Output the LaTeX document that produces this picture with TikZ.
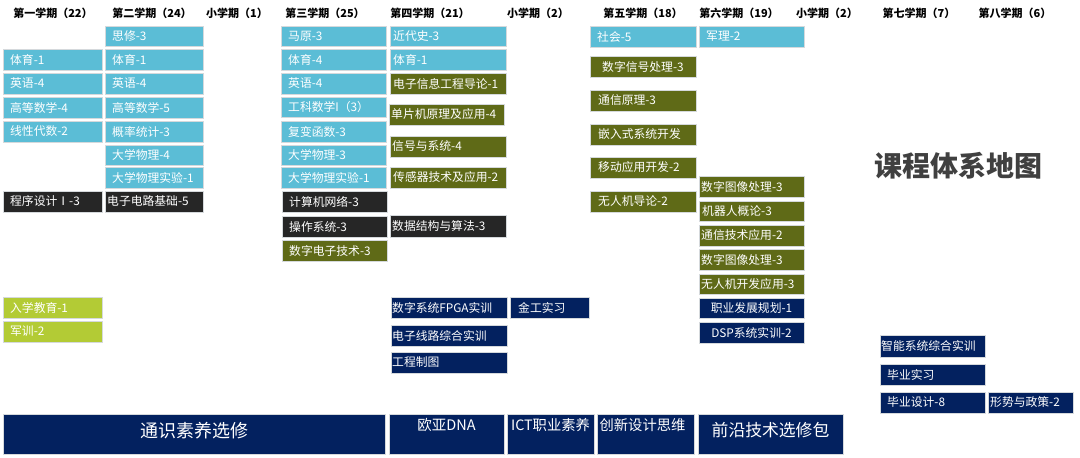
\documentclass[tikz,border=0pt]{standalone}
\usepackage{fontspec}
\setmainfont{Noto Sans CJK SC}
\definecolor{cblue}{HTML}{5BBDD6}
\definecolor{colive}{HTML}{5F6A17}
\definecolor{cdark}{HTML}{262626}
\definecolor{cnavy}{HTML}{03215F}
\definecolor{clime}{HTML}{B3CB35}
\definecolor{cedge}{HTML}{D5D9DC}
\definecolor{ctitle}{HTML}{404040}
\tikzset{
  box/.style={draw=cedge, line width=0.8pt, inner sep=0pt, outer sep=0pt, anchor=north west},
  bl/.style={box, fill=cblue},
  ol/.style={box, fill=colive},
  dk/.style={box, fill=cdark},
  nv/.style={box, fill=cnavy},
  lm/.style={box, fill=clime},
  lab/.style={anchor=west, inner sep=0pt, text=white, font=\fontsize{11.8}{13}\selectfont},
  labc/.style={anchor=center, inner sep=0pt, text=white, font=\fontsize{11.8}{13}\selectfont},
  head/.style={inner sep=0pt, text=black, font=\bfseries\fontsize{11}{13}\selectfont},
}
% style, name, x, y, w, h, inset, text
\newcommand\cb[8]{\node[#1, minimum width=#5pt, minimum height=#6pt, label={[lab, xshift=#7pt]west:#8}] (#2) at (#3,#4) {};}
% style, name, x, y, w, h, label options, text
\newcommand\cc[8]{\node[#1, minimum width=#5pt, minimum height=#6pt, label={[labc, #7]center:#8}] (#2) at (#3,#4) {};}
\begin{document}
\begin{tikzpicture}[x=1pt, y=-1pt]
\path[use as bounding box, fill=white] (0,0) rectangle (1080,458);
% headers
\node[head] (h1) at (53,13) {第一学期（22）};
\node[head] (h2) at (152,13) {第二学期（24）};
\node[head] (h3) at (237,13) {小学期（1）};
\node[head] (h4) at (325,13) {第三学期（25）};
\node[head] (h5) at (430,13) {第四学期（21）};
\node[head] (h6) at (538,13) {小学期（2）};
\node[head] (h7) at (643,13) {第五学期（18）};
\node[head] (h8) at (739,13) {第六学期（19）};
\node[head] (h9) at (827,13) {小学期（2）};
\node[head] (h10) at (919,13) {第七学期（7）};
\node[head] (h11) at (1015,13) {第八学期（6）};
% column 1
\cb{bl}{a1}{3}{49}{99}{21}{7}{体育-1}
\cb{bl}{a2}{3}{73}{99}{21}{7}{英语-4}
\cb{bl}{a3}{3}{97}{99}{21}{7}{高等数学-4}
\cb{bl}{a4}{3}{121}{99}{21}{7}{线性代数-2}
\cb{dk}{a5}{3}{191}{99}{21}{7}{程序设计Ⅰ-3}
\cb{lm}{a6}{3}{297}{99}{21}{7}{入学教育-1}
\cb{lm}{a7}{3}{321}{99}{21}{7}{军训-2}
% column 2
\cb{bl}{b1}{105}{26}{98}{20}{7}{思修-3}
\cb{bl}{b2}{105}{49}{98}{21}{7}{体育-1}
\cb{bl}{b3}{105}{73}{98}{21}{7}{英语-4}
\cb{bl}{b4}{105}{97}{98}{21}{7}{高等数学-5}
\cb{bl}{b5}{105}{121}{98}{21}{7}{概率统计-3}
\cb{bl}{b6}{105}{145}{98}{20}{7}{大学物理-4}
\cb{bl}{b7}{105}{167}{98}{21}{7}{大学物理实验-1}
\cb{dk}{b8}{105}{191}{98}{21}{2}{电子电路基础-5}
% column 3
\cb{bl}{c1}{281}{26}{105}{20}{7}{马原-3}
\cb{bl}{c2}{281}{49}{105}{21}{7}{体育-4}
\cb{bl}{c3}{281}{73}{105}{21}{7}{英语-4}
\cb{bl}{c4}{281}{97}{105}{20}{7}{工科数学I（3）}
\cb{bl}{c5}{281}{121}{105}{21}{7}{复变函数-3}
\cb{bl}{c6}{281}{145}{105}{20}{7}{大学物理-3}
\cb{bl}{c7}{281}{167}{105}{21}{7}{大学物理实验-1}
\cb{dk}{c8}{282}{191}{105}{21}{7}{计算机网络-3}
\cb{dk}{c9}{282}{216}{105}{21}{7}{操作系统-3}
\cb{ol}{c10}{282}{240}{105}{21}{7}{数字电子技术-3}
% column 4
\cb{bl}{d1}{390}{26}{116}{20}{3}{近代史-3}
\cb{bl}{d2}{390}{49}{116}{21}{3}{体育-1}
\cb{ol}{d3}{390}{73}{116}{21}{3}{电子信息工程导论-1}
\cb{ol}{d4}{389}{104}{115}{21}{2}{单片机原理及应用-4}
\cb{ol}{d5}{390}{136}{116}{21}{2}{信号与系统-4}
\cb{ol}{d6}{390}{167}{116}{21}{3}{传感器技术及应用-2}
\cb{dk}{d7}{390}{215}{116}{22}{2}{数据结构与算法-3}
\cb{nv}{d8}{391}{297}{116}{21}{1}{数字系统FPGA实训}
\cb{nv}{d9}{510}{297}{79}{21}{8}{金工实习}
\cb{nv}{d10}{391}{325}{116}{21}{1}{电子线路综合实训}
\cb{nv}{d11}{391}{352}{116}{21}{1}{工程制图}
% column 5
\cb{bl}{e1}{590}{26}{106}{21}{7}{社会-5}
\cb{ol}{e2}{590}{56}{106}{21}{12}{数字信号处理-3}
\cb{ol}{e3}{590}{90}{106}{21}{8}{通信原理-3}
\cb{ol}{e4}{590}{124}{106}{21}{8}{嵌入式系统开发}
\cb{ol}{e5}{590}{157}{106}{21}{8}{移动应用开发-2}
\cb{ol}{e6}{590}{191}{106}{21}{8}{无人机导论-2}
% column 6
\cb{bl}{f1}{699}{26}{105}{21}{7}{军理-2}
\cb{ol}{f2}{699}{176}{105}{21}{2}{数字图像处理-3}
\cb{ol}{f3}{699}{201}{105}{20}{3}{机器人概论-3}
\cb{ol}{f4}{699}{225}{105}{21}{2}{通信技术应用-2}
\cb{ol}{f5}{699}{249}{105}{21}{2}{数字图像处理-3}
\cb{ol}{f6}{699}{274}{105}{20}{2}{无人机开发应用-3}
\cc{nv}{f7}{699}{298}{105}{20}{}{职业发展规划-1}
\cc{nv}{f8}{699}{322}{105}{21}{}{DSP系统实训-2}
% column 7/8
\cb{nv}{g1}{880}{335}{105}{22}{1}{智能系统综合实训}
\cb{nv}{g2}{880}{364}{105}{21}{7}{毕业实习}
\cb{nv}{g3}{880}{392}{105}{21}{7}{毕业设计-8}
\cb{nv}{g4}{988}{392}{85}{21}{2}{形势与政策-2}
% title
\node[inner sep=0pt, text=ctitle, font=\bfseries\fontsize{28}{32}\selectfont] (title) at (958,166) {课程体系地图};
% bottom bar
\cc{nv}{k1}{3}{414}{382}{40}{yshift=3.5pt, font=\fontsize{18}{20}\selectfont}{通识素养选修}
\cc{nv}{k2}{389}{414}{115}{40}{yshift=8.5pt, font=\fontsize{14.5}{16}\selectfont}{欧亚DNA}
\cc{nv}{k3}{507}{414}{87}{40}{yshift=8.5pt, font=\fontsize{14.3}{16}\selectfont}{ICT职业素养}
\cc{nv}{k4}{597}{414}{97}{40}{yshift=8.5pt, xshift=-3pt, font=\fontsize{14.3}{16}\selectfont}{创新设计思维}
\cc{nv}{k5}{698}{414}{145}{40}{yshift=3.5pt, font=\fontsize{16.8}{19}\selectfont}{前沿技术选修包}
\end{tikzpicture}
\end{document}
